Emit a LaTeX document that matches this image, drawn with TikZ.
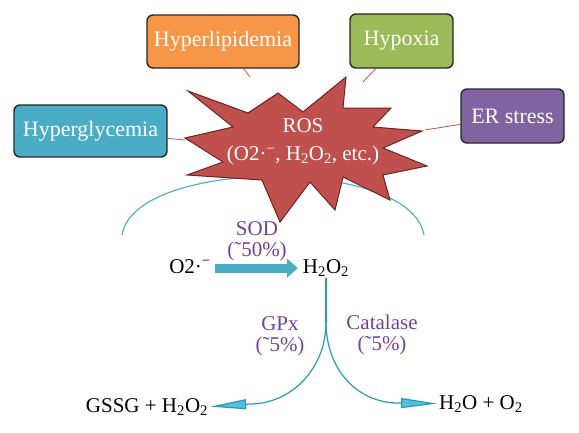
\documentclass[tikz,border=0pt]{standalone}
\usepackage{fontspec}
\setmainfont{Liberation Serif}
\usetikzlibrary{arrows.meta}
\definecolor{glycblue}{RGB}{75,172,198}
\definecolor{lipidorange}{RGB}{247,150,70}
\definecolor{hypoxgreen}{RGB}{155,187,89}
\definecolor{erpurple}{RGB}{128,100,162}
\definecolor{rosred}{RGB}{192,80,77}
\definecolor{rosdark}{RGB}{110,35,35}
\definecolor{enzviolet}{RGB}{117,63,155}
\definecolor{flowteal}{RGB}{40,155,185}
\definecolor{tipcyan}{RGB}{85,190,218}

\begin{document}
\begin{tikzpicture}[x=1pt,y=-1pt]
          \tikzset{
            cause/.style={rectangle, rounded corners=6pt, draw=black!85, line width=1.4pt,
              text=white, inner sep=0pt, font=\fontsize{22}{24}\selectfont},
            link/.style={draw=rosred, line width=0.8pt},
            species/.style={inner sep=2pt, anchor=base, font=\fontsize{21}{24}\selectfont},
            enzyme/.style={text=enzviolet, align=center, inner sep=0pt, font=\fontsize{21}{21}\selectfont},
            sodarrow/.style={draw=glycblue, line width=9pt, -{Triangle[length=11pt,width=19pt]}},
            flow/.style={draw=flowteal, line width=1.2pt, -{Triangle[length=36pt,width=10pt,fill=tipcyan]}}
          }
          \useasboundingbox (0,0) rectangle (579,432);

          % causes
          \node[cause, fill=glycblue, minimum width=153pt, minimum height=52pt] (glyc) at (90.5,131) {Hyperglycemia};
          \node[cause, fill=lipidorange, minimum width=152pt, minimum height=53pt] (lipid) at (223,41.5) {Hyperlipidemia};
          \node[cause, fill=hypoxgreen, minimum width=103pt, minimum height=54pt] (hypox) at (401.5,41) {Hypoxia};
          \node[cause, fill=erpurple, minimum width=103pt, minimum height=54pt] (erst) at (512.5,116) {ER stress};
          \coordinate (glycend) at (185,140);
          \coordinate (lipidend) at (250,77);
          \coordinate (hypoxend) at (363,82);
          \coordinate (erstend) at (425,130);

          % arc behind the burst
          \draw[glycblue, line width=1.1pt] (122,235) .. controls (135,157) and (411,157) .. (424,235);

          % links
          \draw[link] (glyc) -- (glycend);
          \draw[link] (lipid) -- (lipidend);
          \draw[link] (hypox) -- (hypoxend);
          \draw[link] (erst) -- (erstend);

          % burst
          \draw[fill=rosred, draw=rosdark, line width=1pt, line join=miter]
            (188,91) -- (248,113) -- (278,93) -- (303,112) -- (346,77) -- (343,108)
            -- (391,108) -- (373,127) -- (422,131) -- (383,148) -- (427,166) -- (383,175)
            -- (390,200) -- (343,177) -- (335,210) -- (310,182) -- (280,222) -- (262,180)
            -- (187,175) -- (223,162) -- (185,138) -- (233,127) -- cycle;
          \node[text=white, align=center, font=\fontsize{21}{28}\selectfont] (ros) at (303,142)
            {ROS\\(O2·\textsuperscript{−}, H\textsubscript{2}O\textsubscript{2}, etc.)};

          % species
          \node[species] (o2) at (190,273) {O2·\textsuperscript{−}};
          \node[species] (h2o2) at (326,273) {H\textsubscript{2}O\textsubscript{2}};
          \node[species] (gssg) at (147,412) {GSSG + H\textsubscript{2}O\textsubscript{2}};
          \node[species] (h2o) at (481,409) {H\textsubscript{2}O + O\textsubscript{2}};

          % enzymes
          \node[enzyme] (sod) at (257,241) {SOD\\(˜50\%)};
          \node[enzyme] (gpx) at (280,336) {GPx\\(˜5\%)};
          \node[enzyme] (cat) at (382,335) {Catalase\\(˜5\%)};

          %edges
          \coordinate (split) at (326,322);
          \coordinate (lbend) at (250,404);
          \coordinate (rbend) at (398,403);
          \draw[sodarrow, shorten <=2pt, shorten >=3pt] ([yshift=-2pt]o2.east) -- ([yshift=-2pt]o2.east -| h2o2.west);
          \draw[flowteal, line width=2.4pt] (h2o2.south) -- (split);
          \draw[flow] (split) .. controls +(0,48) and +(40,0) .. (lbend) -- (gssg.east);
          \draw[flow] (split) .. controls +(0,48) and +(-40,0) .. (rbend) -- (h2o.west);
        \end{tikzpicture}
\end{document}
